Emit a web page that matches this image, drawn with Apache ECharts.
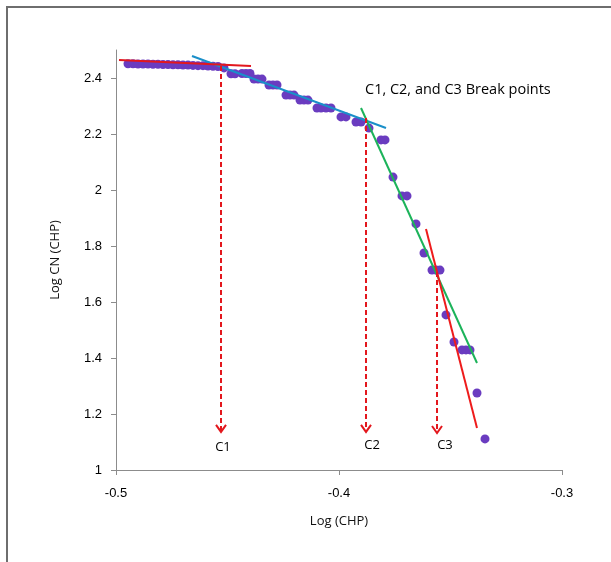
<!DOCTYPE html>
<html><head><meta charset="utf-8">
<script src="https://cdn.jsdelivr.net/npm/echarts@6/dist/echarts.min.js"></script>
<style>html,body{margin:0;padding:0;background:#fff}#c{width:611px;height:562px}</style>
</head><body><div id="c"></div>
<script>
// Observed points: log(CHP) vs log CN(CHP)
const logCHP = [
 -0.49462,-0.49238,-0.49013,-0.48789,-0.48565,-0.48341,-0.48117,-0.47892,-0.47668,-0.47444,
 -0.47220,-0.46996,-0.46771,-0.46547,-0.46323,-0.46099,-0.45874,-0.45650,-0.45426,-0.45157,
 -0.44843,-0.44664,-0.44350,-0.44170,-0.43991,
 -0.43812,-0.43632,-0.43453,
 -0.43139,-0.42960,-0.42780,
 -0.42377,-0.42197,-0.42018,
 -0.41749,-0.41570,-0.41390,
 -0.40987,-0.40807,-0.40583,-0.40359,
 -0.39910,-0.39686,
 -0.39238,-0.39013,
 -0.38655,
 -0.38117,-0.37937,
 -0.37578,
 -0.37175,-0.36951,
 -0.36547,
 -0.36188,
 -0.35830,-0.35650,-0.35471,
 -0.35202,
 -0.34843,
 -0.34484,-0.34305,-0.34126,
 -0.33812,
 -0.33453
];
const logCN = [
 2.451,2.451,2.450,2.450,2.450,2.449,2.449,2.448,2.448,2.447,
 2.447,2.446,2.446,2.445,2.444,2.444,2.443,2.442,2.441,2.436,
 2.415,2.415,2.416,2.416,2.416,
 2.396,2.396,2.396,
 2.375,2.375,2.375,
 2.339,2.339,2.339,
 2.321,2.321,2.321,
 2.293,2.293,2.293,2.293,
 2.261,2.261,
 2.243,2.243,
 2.221,
 2.179,2.179,
 2.046,
 1.979,1.979,
 1.879,
 1.775,
 1.714,1.714,1.714,
 1.554,
 1.457,
 1.429,1.429,1.429,
 1.275,
 1.111
];
// Fitted segment lines [x1,y1,x2,y2]
const fitRed1  = [-0.49865, 2.4643, -0.43946, 2.4429];
const fitBlue  = [-0.46592, 2.4786, -0.37892, 2.2214];
const fitGreen = [-0.39013, 2.2929, -0.33812, 1.3821];
const fitRed2  = [-0.36099, 1.8607, -0.33812, 1.1500];
// Break points: name, x, arrow top, arrow bottom, label x, label y
const breakNames = ['C1','C2','C3'];
const breakX     = [-0.45291, -0.38789, -0.35605];
const breakTop   = [2.443, 2.257, 1.707];
const breakBottom= [1.136, 1.136, 1.132];
const labelX     = [-0.45202, -0.38520, -0.35247];
const labelY     = [1.080, 1.090, 1.087];
const xTicks = [-0.5, -0.4, -0.3];
const yTicks = [1, 1.2, 1.4, 1.6, 1.8, 2, 2.2, 2.4];

const FONT = '"Open Sans", "Liberation Sans", sans-serif';
const TICKFONT = '"Liberation Sans", Arial, sans-serif';
const pts = logCHP.map((x, i) => [x, logCN[i]]);
const seg = a => [[a[0], a[1]], [a[2], a[3]]];
const breaks = breakNames.map((n, i) => [breakX[i], breakTop[i], breakBottom[i], labelX[i], labelY[i], n]);

const chart = echarts.init(document.getElementById('c'));
chart.setOption({
  animation: false,
  backgroundColor: '#fff',
  grid: { left: 116, right: 49, top: 50, bottom: 92 },
  xAxis: {
    type: 'value', min: -0.5, max: -0.3, interval: 0.1,
    name: 'Log (CHP)', nameLocation: 'middle', nameGap: 45,
    nameTextStyle: { color: '#111', fontSize: 13, fontFamily: FONT },
    axisLine: { lineStyle: { color: '#8c8c8c', width: 1 } },
    axisTick: { show: true, length: 5, lineStyle: { color: '#8c8c8c' }, customValues: xTicks },
    axisLabel: { color: '#000', fontSize: 13, fontFamily: TICKFONT, margin: 17, customValues: xTicks,
      formatter: v => (Math.round(v * 10) / 10).toString() },
    splitLine: { show: false }
  },
  yAxis: {
    type: 'value', min: 1, max: 2.5, interval: 0.2,
    name: 'Log CN (CHP)', nameLocation: 'middle', nameGap: 54,
    nameTextStyle: { color: '#111', fontSize: 13, fontFamily: FONT },
    axisLine: { show: true, lineStyle: { color: '#8c8c8c', width: 1 } },
    axisTick: { show: true, length: 5, lineStyle: { color: '#8c8c8c' }, customValues: yTicks },
    axisLabel: { color: '#000', fontSize: 13, fontFamily: TICKFONT, margin: 14, customValues: yTicks,
      formatter: v => (Math.round(v * 10) / 10).toString() },
    splitLine: { show: false }
  },
  graphic: [
    { type: 'polyline', shape: { points: [[7, 600], [7, 7], [620, 7]] },
      style: { stroke: '#6e6e6e', lineWidth: 2, fill: null }, silent: true },
    { type: 'text', left: 365, top: 82,
      style: { text: 'C1, C2, and C3 Break points', fill: '#000', font: '500 14.5px ' + FONT } }
  ],
  series: [
    { type: 'scatter', data: pts, symbol: 'circle', symbolSize: 9, z: 2,
      itemStyle: { color: '#6a3cc0', opacity: 1 } },
    { type: 'line', data: seg(fitBlue), symbol: 'none', z: 3,
      lineStyle: { color: '#1a8fc9', width: 2 } },
    { type: 'line', data: seg(fitRed1), symbol: 'none', z: 3,
      lineStyle: { color: '#e3171d', width: 2 } },
    { type: 'line', data: seg(fitGreen), symbol: 'none', z: 3,
      lineStyle: { color: '#1cb35a', width: 2 } },
    { type: 'line', data: seg(fitRed2), symbol: 'none', z: 3,
      lineStyle: { color: '#ee1c1c', width: 2 } },
    { type: 'custom', data: breaks, z: 4,
      renderItem: function (params, api) {
        const top = api.coord([api.value(0), api.value(1)]);
        const bot = api.coord([api.value(0), api.value(2)]);
        const lab = api.coord([api.value(3), api.value(4)]);
        return { type: 'group', children: [
          { type: 'line', shape: { x1: top[0], y1: top[1], x2: bot[0], y2: bot[1] },
            style: { stroke: '#e3171d', lineWidth: 2, lineDash: [5, 3] } },
          { type: 'polyline', shape: { points: [[bot[0] - 5, bot[1] - 7], [bot[0], bot[1]], [bot[0] + 5, bot[1] - 7]] },
            style: { stroke: '#e3171d', lineWidth: 2, fill: null } },
          { type: 'text', x: lab[0], y: lab[1],
            style: { text: breakNames[params.dataIndex], fill: '#000', font: '500 13px ' + FONT,
              textAlign: 'center', textVerticalAlign: 'middle' } }
        ]};
      }
    }
  ]
});
</script></body></html>
